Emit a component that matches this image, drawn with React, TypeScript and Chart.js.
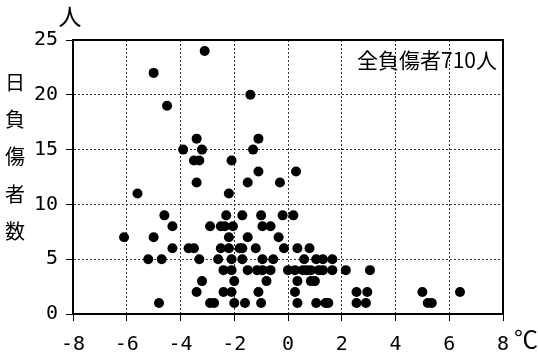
import React, { useEffect, useRef } from "react";
import { Chart, registerables } from "chart.js";

Chart.register(...registerables);

// Daily mean temperature (°C) and number of injured persons per day
const dayTemps: number[] = [
  -3.1,
  -5.0,
  -1.4,
  -4.5,
  -3.4, -1.1,
  -3.9, -3.2, -1.3,
  -3.5, -3.3, -2.1,
  -1.1, 0.3,
  -3.4, -1.5, -0.3,
  -5.6, -2.2,
  -4.6, -2.3, -1.7, -1.0, -0.2, 0.2,
  -4.3, -2.9, -2.5, -2.35, -2.05, -0.95, -0.65,
  -6.1, -5.0, -2.2, -1.5, -0.35,
  -4.3, -3.7, -3.5, -2.5, -2.2, -1.8, -1.7, -1.2, -0.15, 0.35, 0.8,
  -5.2, -4.7, -3.3, -2.6, -2.1, -1.7, -0.95, -0.55, 0.6, 1.05, 1.3, 1.65,
  -2.4, -2.1, -1.5, -1.15, -0.95, -0.65, 0.0, 0.26, 0.55, 0.7, 0.85, 1.15, 1.3, 1.65, 2.15, 3.05,
  -3.2, -2.0, -0.8, 0.35, 0.85, 1.0,
  -3.4, -2.4, -2.1, -1.1, 0.26, 2.55, 2.95, 5.0, 6.4,
  -4.8, -2.9, -2.75, -2.0, -1.6, -1.0, 0.35, 1.05, 1.4, 1.5, 2.55, 2.9, 5.2, 5.35,
];

const dayInjured: number[] = [
  24,
  22,
  20,
  19,
  16, 16,
  15, 15, 15,
  14, 14, 14,
  13, 13,
  12, 12, 12,
  11, 11,
  9, 9, 9, 9, 9, 9,
  8, 8, 8, 8, 8, 8, 8,
  7, 7, 7, 7, 7,
  6, 6, 6, 6, 6, 6, 6, 6, 6, 6, 6,
  5, 5, 5, 5, 5, 5, 5, 5, 5, 5, 5, 5,
  4, 4, 4, 4, 4, 4, 4, 4, 4, 4, 4, 4, 4, 4, 4, 4,
  3, 3, 3, 3, 3, 3,
  2, 2, 2, 2, 2, 2, 2, 2, 2,
  1, 1, 1, 1, 1, 1, 1, 1, 1, 1, 1, 1, 1, 1,
];

const xRange = { min: -8, max: 8, step: 2 };
const yRange = { min: 0, max: 25, step: 5 };

const yTitleChars = ["日", "負", "傷", "者", "数"];
const yUnit = "人";
const xUnit = "℃";
const totalNote = "全負傷者710人";

const CJK = '"Noto Sans CJK JP", "Noto Sans", sans-serif';
const MONO = '"DejaVu Sans Mono", "Liberation Mono", monospace';

export default function App() {
  const ref = useRef<HTMLCanvasElement | null>(null);

  useEffect(() => {
    document.body.style.margin = "0";
    const canvas = ref.current;
    if (!canvas) return;

    const decor = {
      id: "decor",
      afterDraw(chart: any) {
        const { ctx, chartArea } = chart;
        ctx.save();
        // frame
        ctx.strokeStyle = "#000";
        ctx.lineWidth = 2;
        ctx.setLineDash([]);
        ctx.strokeRect(chartArea.left, chartArea.top, chartArea.right - chartArea.left, chartArea.bottom - chartArea.top);
        ctx.fillStyle = "#000";
        // vertical y title
        ctx.font = `20px ${CJK}`;
        ctx.textAlign = "center";
        ctx.textBaseline = "middle";
        const ys = [82, 119, 156, 194, 231];
        yTitleChars.forEach((c, i) => ctx.fillText(c, 15, ys[i]));
        // unit labels
        ctx.font = `23px ${CJK}`;
        ctx.fillText(yUnit, 70, 16);
        ctx.font = `24px ${CJK}`;
        ctx.fillText(xUnit, 526, 339);
        // note
        ctx.font = `21px ${CJK}`;
        ctx.textAlign = "right";
        ctx.fillText(totalNote, 497, 60);
        ctx.restore();
      },
    };

    const chart = new Chart(canvas, {
      type: "scatter",
      data: {
        datasets: [
          {
            data: dayTemps.map((t, i) => ({ x: t, y: dayInjured[i] })),
            backgroundColor: "#000",
            borderColor: "#000",
            borderWidth: 0,
            pointRadius: 5,
          },
        ],
      },
      options: {
        responsive: false,
        animation: false,
        layout: { padding: { left: 0, right: 35, top: 40, bottom: 0 } },
        plugins: { legend: { display: false }, tooltip: { enabled: false } },
        scales: {
          x: {
            type: "linear",
            min: xRange.min,
            max: xRange.max,
            ticks: {
              stepSize: xRange.step,
              color: "#000",
              font: { family: MONO, size: 20 },
              padding: 12,
              maxRotation: 0,
            },
            grid: {
              color: "#333",
              lineWidth: 1,
              tickLength: 7,
              tickColor: "#000",
              tickWidth: 1,
            },
            border: { display: true, color: "#000", width: 2, dash: [2, 2] },
            afterFit: (scale: any) => {
              scale.height = 39;
            },
          },
          y: {
            type: "linear",
            min: yRange.min,
            max: yRange.max,
            ticks: {
              stepSize: yRange.step,
              color: "#000",
              font: { family: MONO, size: 20 },
              padding: 8,
            },
            grid: {
              color: "#333",
              lineWidth: 1,
              tickLength: 7,
              tickColor: "#000",
              tickWidth: 1,
            },
            border: { display: true, color: "#000", width: 2, dash: [2, 2] },
            afterFit: (scale: any) => {
              scale.width = 73;
            },
          },
        },
      },
      plugins: [decor],
    });

    return () => chart.destroy();
  }, []);

  return (
    <div style={{ width: 538, height: 353, background: "#fff" }}>
      <canvas ref={ref} width={538} height={353} style={{ display: "block" }} />
    </div>
  );
}
